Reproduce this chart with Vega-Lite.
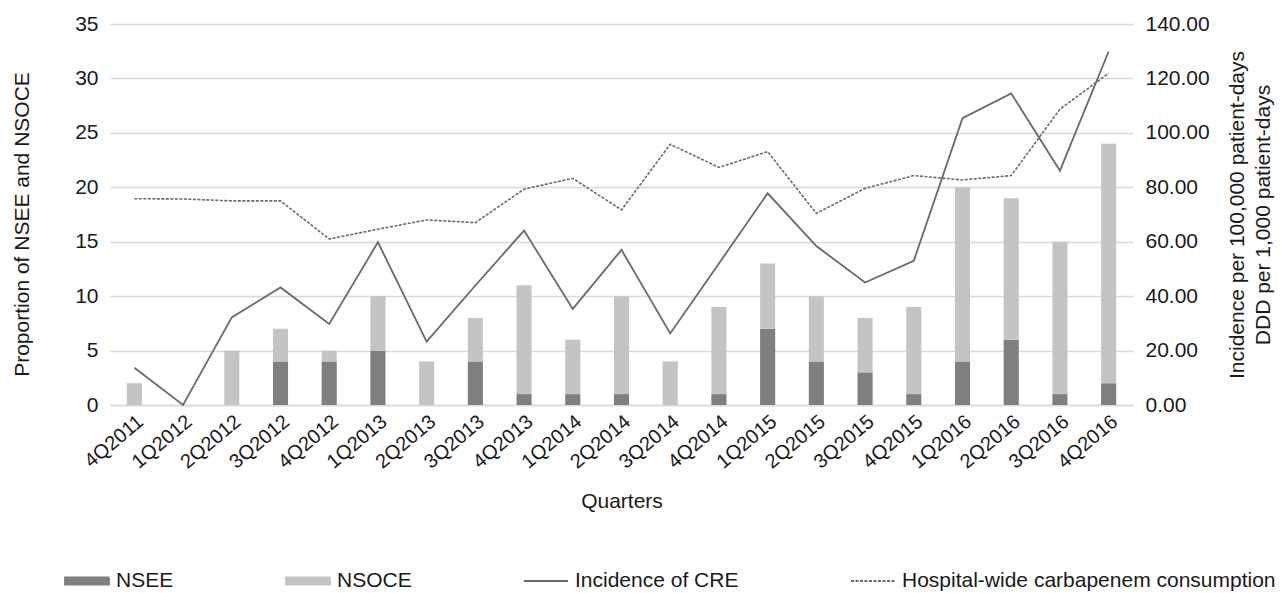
{
  "$schema": "https://vega.github.io/schema/vega-lite/v6.json",
  "autosize": "none",
  "padding": {"left": 110, "top": 24, "right": 152, "bottom": 188},
  "width": 1023,
  "height": 381,
  "config": {
    "font": "Liberation Sans",
    "view": {"stroke": null},
    "axis": {"labelColor": "#1a1a1a", "titleColor": "#1a1a1a", "titleFontWeight": "normal"}
  },
  "datasets": {
    "bars": [
      {"q": "4Q2011", "series": "NSEE", "value": 0}, {"q": "4Q2011", "series": "NSOCE", "value": 2},
      {"q": "1Q2012", "series": "NSEE", "value": 0}, {"q": "1Q2012", "series": "NSOCE", "value": 0},
      {"q": "2Q2012", "series": "NSEE", "value": 0}, {"q": "2Q2012", "series": "NSOCE", "value": 5},
      {"q": "3Q2012", "series": "NSEE", "value": 4}, {"q": "3Q2012", "series": "NSOCE", "value": 3},
      {"q": "4Q2012", "series": "NSEE", "value": 4}, {"q": "4Q2012", "series": "NSOCE", "value": 1},
      {"q": "1Q2013", "series": "NSEE", "value": 5}, {"q": "1Q2013", "series": "NSOCE", "value": 5},
      {"q": "2Q2013", "series": "NSEE", "value": 0}, {"q": "2Q2013", "series": "NSOCE", "value": 4},
      {"q": "3Q2013", "series": "NSEE", "value": 4}, {"q": "3Q2013", "series": "NSOCE", "value": 4},
      {"q": "4Q2013", "series": "NSEE", "value": 1}, {"q": "4Q2013", "series": "NSOCE", "value": 10},
      {"q": "1Q2014", "series": "NSEE", "value": 1}, {"q": "1Q2014", "series": "NSOCE", "value": 5},
      {"q": "2Q2014", "series": "NSEE", "value": 1}, {"q": "2Q2014", "series": "NSOCE", "value": 9},
      {"q": "3Q2014", "series": "NSEE", "value": 0}, {"q": "3Q2014", "series": "NSOCE", "value": 4},
      {"q": "4Q2014", "series": "NSEE", "value": 1}, {"q": "4Q2014", "series": "NSOCE", "value": 8},
      {"q": "1Q2015", "series": "NSEE", "value": 7}, {"q": "1Q2015", "series": "NSOCE", "value": 6},
      {"q": "2Q2015", "series": "NSEE", "value": 4}, {"q": "2Q2015", "series": "NSOCE", "value": 6},
      {"q": "3Q2015", "series": "NSEE", "value": 3}, {"q": "3Q2015", "series": "NSOCE", "value": 5},
      {"q": "4Q2015", "series": "NSEE", "value": 1}, {"q": "4Q2015", "series": "NSOCE", "value": 8},
      {"q": "1Q2016", "series": "NSEE", "value": 4}, {"q": "1Q2016", "series": "NSOCE", "value": 16},
      {"q": "2Q2016", "series": "NSEE", "value": 6}, {"q": "2Q2016", "series": "NSOCE", "value": 13},
      {"q": "3Q2016", "series": "NSEE", "value": 1}, {"q": "3Q2016", "series": "NSOCE", "value": 14},
      {"q": "4Q2016", "series": "NSEE", "value": 2}, {"q": "4Q2016", "series": "NSOCE", "value": 22}
    ],
    "lines": [
      {"q": "4Q2011", "series": "Incidence of CRE", "value": 13.7}, {"q": "4Q2011", "series": "Hospital-wide carbapenem consumption", "value": 75.8},
      {"q": "1Q2012", "series": "Incidence of CRE", "value": 0}, {"q": "1Q2012", "series": "Hospital-wide carbapenem consumption", "value": 75.7},
      {"q": "2Q2012", "series": "Incidence of CRE", "value": 32.2}, {"q": "2Q2012", "series": "Hospital-wide carbapenem consumption", "value": 75.0},
      {"q": "3Q2012", "series": "Incidence of CRE", "value": 43.2}, {"q": "3Q2012", "series": "Hospital-wide carbapenem consumption", "value": 75.0},
      {"q": "4Q2012", "series": "Incidence of CRE", "value": 29.8}, {"q": "4Q2012", "series": "Hospital-wide carbapenem consumption", "value": 61.0},
      {"q": "1Q2013", "series": "Incidence of CRE", "value": 59.8}, {"q": "1Q2013", "series": "Hospital-wide carbapenem consumption", "value": 64.6},
      {"q": "2Q2013", "series": "Incidence of CRE", "value": 23.3}, {"q": "2Q2013", "series": "Hospital-wide carbapenem consumption", "value": 68.0},
      {"q": "3Q2013", "series": "Incidence of CRE", "value": 43.9}, {"q": "3Q2013", "series": "Hospital-wide carbapenem consumption", "value": 67.0},
      {"q": "4Q2013", "series": "Incidence of CRE", "value": 64.1}, {"q": "4Q2013", "series": "Hospital-wide carbapenem consumption", "value": 79.3},
      {"q": "1Q2014", "series": "Incidence of CRE", "value": 35.3}, {"q": "1Q2014", "series": "Hospital-wide carbapenem consumption", "value": 83.3},
      {"q": "2Q2014", "series": "Incidence of CRE", "value": 57.0}, {"q": "2Q2014", "series": "Hospital-wide carbapenem consumption", "value": 71.7},
      {"q": "3Q2014", "series": "Incidence of CRE", "value": 26.3}, {"q": "3Q2014", "series": "Hospital-wide carbapenem consumption", "value": 95.8},
      {"q": "4Q2014", "series": "Incidence of CRE", "value": 52.0}, {"q": "4Q2014", "series": "Hospital-wide carbapenem consumption", "value": 87.3},
      {"q": "1Q2015", "series": "Incidence of CRE", "value": 77.8}, {"q": "1Q2015", "series": "Hospital-wide carbapenem consumption", "value": 93.1},
      {"q": "2Q2015", "series": "Incidence of CRE", "value": 58.4}, {"q": "2Q2015", "series": "Hospital-wide carbapenem consumption", "value": 70.4},
      {"q": "3Q2015", "series": "Incidence of CRE", "value": 45.0}, {"q": "3Q2015", "series": "Hospital-wide carbapenem consumption", "value": 79.6},
      {"q": "4Q2015", "series": "Incidence of CRE", "value": 53.0}, {"q": "4Q2015", "series": "Hospital-wide carbapenem consumption", "value": 84.3},
      {"q": "1Q2016", "series": "Incidence of CRE", "value": 105.4}, {"q": "1Q2016", "series": "Hospital-wide carbapenem consumption", "value": 82.7},
      {"q": "2Q2016", "series": "Incidence of CRE", "value": 114.5}, {"q": "2Q2016", "series": "Hospital-wide carbapenem consumption", "value": 84.3},
      {"q": "3Q2016", "series": "Incidence of CRE", "value": 86.1}, {"q": "3Q2016", "series": "Hospital-wide carbapenem consumption", "value": 108.7},
      {"q": "4Q2016", "series": "Incidence of CRE", "value": 129.9}, {"q": "4Q2016", "series": "Hospital-wide carbapenem consumption", "value": 121.9}
    ]
  },
  "encoding": {
    "x": {
      "field": "q", "type": "nominal", "sort": null,
      "scale": {"paddingInner": 0.69, "paddingOuter": 0.345},
      "axis": {
        "title": "Quarters", "titleFontSize": 21, "titlePadding": 18,
        "labelAngle": -40, "labelFontSize": 20, "labelPadding": 6,
        "ticks": false, "domainColor": "#d9d9d9", "domainWidth": 1.3
      }
    }
  },
  "layer": [
    {
      "data": {"name": "bars"},
      "mark": {"type": "bar"},
      "encoding": {
        "y": {
          "field": "value", "type": "quantitative", "stack": "zero",
          "scale": {"domain": [0, 35], "nice": false},
          "axis": {
            "title": "Proportion of NSEE and NSOCE", "titleFontSize": 21, "titlePadding": 42, "titleY": 200,
            "values": [0, 5, 10, 15, 20, 25, 30, 35], "labelFontSize": 21, "labelPadding": 12,
            "ticks": false, "domain": false, "grid": true, "gridColor": "#d9d9d9", "gridWidth": 1.3
          }
        },
        "order": {"field": "series", "sort": "ascending"},
        "color": {
          "field": "series", "type": "nominal",
          "scale": {
            "domain": ["NSEE", "NSOCE", "Incidence of CRE", "Hospital-wide carbapenem consumption"],
            "range": ["#7f7f7f", "#c4c4c4", "#6a6a6a", "#6a6a6a"]
          },
          "legend": {
            "title": null, "orient": "none", "legendX": -46, "legendY": 534,
            "direction": "horizontal", "columns": 4, "columnPadding": 108,
            "labelFontSize": 21, "labelColor": "#1a1a1a", "labelOffset": 6, "labelLimit": 500,
            "symbolSize": 1936,
            "encode": {
              "symbols": {
                "update": {
                  "shape": {"signal": "indexof(['NSEE','NSOCE'], datum.value) >= 0 ? 'M-1,-0.16H1V0.16H-1Z' : 'stroke'"},
                  "fill": {"signal": "indexof(['NSEE','NSOCE'], datum.value) >= 0 ? scale('color', datum.value) : 'transparent'"},
                  "stroke": {"signal": "indexof(['NSEE','NSOCE'], datum.value) >= 0 ? 'transparent' : '#6a6a6a'"},
                  "strokeDash": {"signal": "datum.value == 'Hospital-wide carbapenem consumption' ? [3, 1.5] : [1, 0]"},
                  "strokeWidth": {"value": 1.8},
                  "size": {"value": 1936},
                  "opacity": {"value": 1}
                }
              }
            }
          }
        }
      }
    },
    {
      "data": {"name": "lines"},
      "layer": [
        {
          "transform": [{"filter": "datum.series == 'Incidence of CRE'"}],
          "mark": {"type": "line", "strokeWidth": 1.8},
          "encoding": {
            "y": {
              "field": "value", "type": "quantitative",
              "scale": {"domain": [0, 140], "nice": false},
              "axis": {
                "orient": "right", "format": ".2f",
                "title": ["Incidence per 100,000 patient-days", "DDD per 1,000 patient-days"],
                "titleFontSize": 21, "titleAngle": 270, "titlePadding": 12, "titleLineHeight": 26,
                "values": [0, 20, 40, 60, 80, 100, 120, 140], "labelFontSize": 21, "labelPadding": 12,
                "ticks": false, "domain": false, "grid": false
              }
            },
            "color": {"field": "series", "type": "nominal"}
          }
        },
        {
          "transform": [{"filter": "datum.series == 'Hospital-wide carbapenem consumption'"}],
          "mark": {"type": "line", "strokeWidth": 1.6, "strokeDash": [3, 1.5]},
          "encoding": {
            "y": {"field": "value", "type": "quantitative"},
            "color": {"field": "series", "type": "nominal"}
          }
        }
      ]
    }
  ],
  "resolve": {"scale": {"y": "independent"}}
}
